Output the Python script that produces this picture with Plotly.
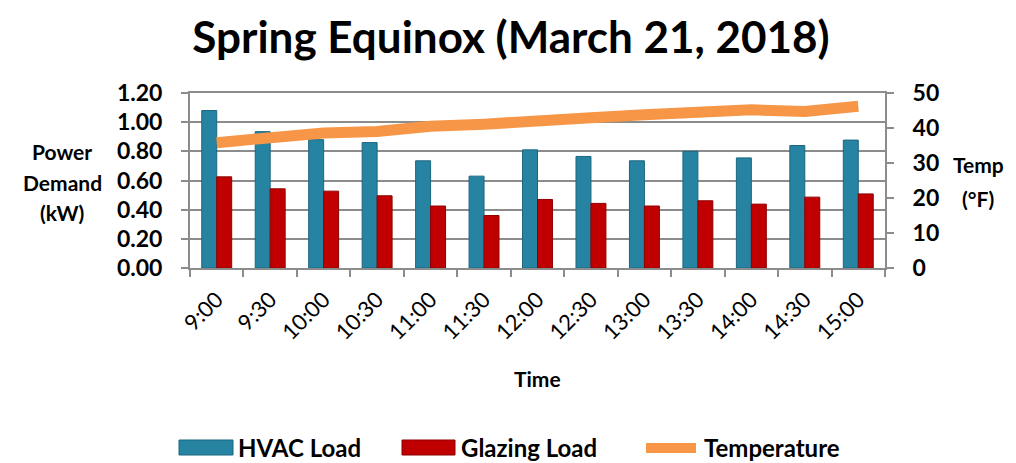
import plotly.graph_objects as go

times = ["9:00", "9:30", "10:00", "10:30", "11:00", "11:30", "12:00",
         "12:30", "13:00", "13:30", "14:00", "14:30", "15:00"]
hvac_load = [1.08, 0.935, 0.88, 0.86, 0.735, 0.63, 0.81,
             0.765, 0.735, 0.80, 0.755, 0.84, 0.877]
glazing_load = [0.625, 0.543, 0.527, 0.495, 0.425, 0.36, 0.47,
                0.443, 0.425, 0.461, 0.438, 0.486, 0.508]
temperature = [35.8, 37.4, 38.6, 39.0, 40.5, 41.1, 41.7,
               42.9, 43.8, 44.3, 45.2, 44.7, 46.2]
series_names = ["HVAC Load", "Glazing Load", "Temperature"]

FONT = "Lato"
GRID = "#8c8c8c"
BLUE = "#2684A2"
RED = "#C00000"
ORANGE = "#F79646"

OFF = 8  # page body margin
W, H = 1016 - OFF, 463 - OFF
# plot area in screen pixels
SL, SR, ST, SB = 190, 885, 93, 268
L, R, T, B = SL - OFF, SR - OFF, ST - OFF, SB - OFF


def px(x):
    """screen x -> paper x"""
    return (x - SL) / (SR - SL)


def py(y):
    """screen y -> paper y"""
    return (SB - y) / (SB - ST)


fig = go.Figure()
fig.add_trace(go.Bar(x=times, y=hvac_load, name=series_names[0], showlegend=False,
                     marker=dict(color=BLUE, line=dict(color="#1B6680", width=1))))
fig.add_trace(go.Bar(x=times, y=glazing_load, name=series_names[1], showlegend=False,
                     marker=dict(color=RED, line=dict(color="#8E0000", width=1))))
fig.add_trace(go.Scatter(x=times, y=temperature, name=series_names[2], yaxis="y2",
                         showlegend=False, mode="lines",
                         line=dict(color=ORANGE, width=11)))

tick_bold = dict(size=23, family=FONT, color="black", weight="bold")
lbl = dict(size=21, family=FONT, color="black", weight="bold")

annotations = [
    dict(text="Power", x=px(62), y=py(151)),
    dict(text="Demand", x=px(62), y=py(182)),
    dict(text="(kW)", x=px(62), y=py(212)),
    dict(text="Temp", x=px(978), y=py(164)),
    dict(text="(°F)", x=px(978), y=py(198)),
    dict(text="Time", x=px(537), y=py(378)),
]
for a in annotations:
    a.update(xref="paper", yref="paper", xanchor="center", yanchor="middle",
             showarrow=False, font=lbl)

# manual legend
shapes = []
leg_y = 447
legend_items = [
    (series_names[0], "rect", BLUE, "#1B6680", 179, 233, 236),
    (series_names[1], "rect", RED, "#8E0000", 402, 455, 459),
    (series_names[2], "line", ORANGE, ORANGE, 646, 696, 702),
]
for name, kind, fill, edge, x0, x1, tx in legend_items:
    if kind == "rect":
        shapes.append(dict(type="rect", xref="paper", yref="paper",
                           x0=px(x0), x1=px(x1), y0=py(leg_y - 7), y1=py(leg_y + 8),
                           fillcolor=fill, line=dict(color=edge, width=1)))
    else:
        shapes.append(dict(type="line", xref="paper", yref="paper",
                           x0=px(x0), x1=px(x1), y0=py(leg_y + 1), y1=py(leg_y + 1),
                           line=dict(color=fill, width=10)))
    annotations.append(dict(text=name, xref="paper", yref="paper", x=px(tx), y=py(leg_y),
                            xanchor="left", yanchor="middle", showarrow=False,
                            font=dict(size=24, family=FONT, color="black", weight="bold")))

fig.update_layout(
    width=W, height=H,
    margin=dict(l=L, r=W - R, t=T, b=H - B, autoexpand=False),
    paper_bgcolor="white", plot_bgcolor="white",
    font=dict(family=FONT, color="black"),
    title=dict(text="Spring Equinox (March 21, 2018)", x=(511 - OFF) / W, xanchor="center",
               y=1 - (38 - OFF) / H, yanchor="middle",
               font=dict(size=44, family=FONT, color="black", weight="bold")),
    barmode="group", bargap=0.44, bargroupgap=0,
    showlegend=False,
    xaxis=dict(type="category", tickangle=-45, showline=True, linecolor=GRID, linewidth=2,
               ticks="outside", ticklen=7, tickcolor=GRID, tickwidth=2,
               tickson="boundaries", showgrid=False, ticklabelstandoff=8,
               tickfont=dict(size=22, family=FONT, color="black"), mirror=True),
    yaxis=dict(range=[0, 1.2], dtick=0.2, tickformat=".2f", showgrid=True,
               gridcolor=GRID, gridwidth=2, showline=True, linecolor=GRID, linewidth=2,
               ticks="outside", ticklen=7, tickcolor=GRID, tickwidth=2, zeroline=False,
               ticklabelstandoff=14, tickfont=tick_bold),
    yaxis2=dict(range=[0, 50], dtick=10, overlaying="y", side="right", showgrid=False,
                showline=True, linecolor=GRID, linewidth=2, ticks="outside", ticklen=7,
                tickcolor=GRID, tickwidth=2, zeroline=False, ticklabelstandoff=14,
                tickfont=tick_bold),
    annotations=annotations,
    shapes=shapes,
)

fig.write_html("out.html")
